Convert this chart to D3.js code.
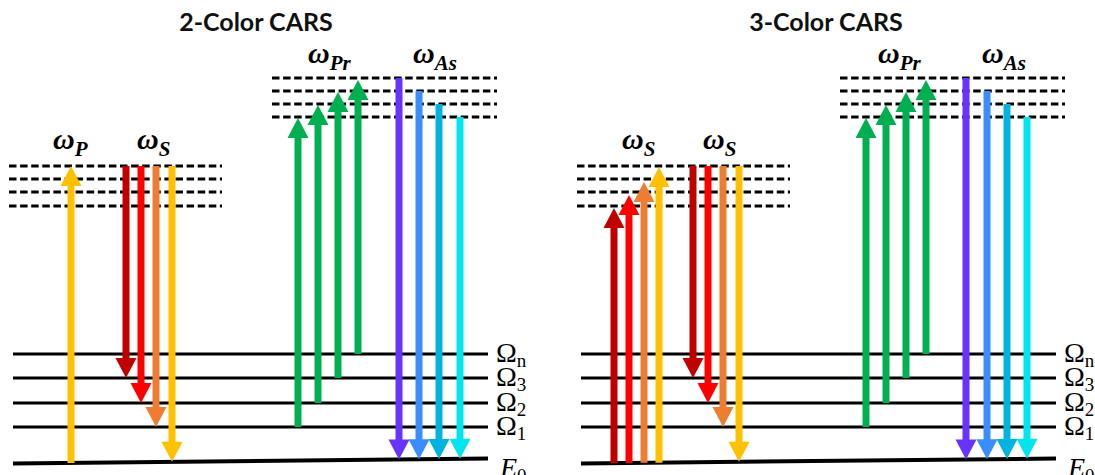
<!DOCTYPE html>
<html>
<head>
<meta charset="utf-8">
<script src="https://cdn.jsdelivr.net/npm/d3@7"></script>
<style>
  body { margin: 0; background: #fff; }
  svg { display: block; }
</style>
</head>
<body>
<svg id="chart" width="1095" height="475"></svg>
<script>
// ---- Energy levels (arbitrary energy units, ground state E0 = 0) ----
const vibLevelE   = [34, 58, 83, 107];
const vibLevelSub = ["1", "2", "3", "n"];
const lowerVirtualE = [255, 269, 282, 295];
const upperVirtualE = [344, 357, 370, 383];

const panelTitles = ["2-Color CARS", "3-Color CARS"];
const panelOffset = [0, 568];

// Beam colours
const cDarkRed = "#C00000", cRed = "#FF0000", cOrange = "#ED7D31", cYellow = "#FFC000";
const cGreen = "#00B050";
const cViolet = "#6633FF", cBlue = "#3A8DFF", cSky = "#00B4DF", cCyan = "#00E5EE";

// ---- 2-colour CARS transitions: position, start energy, end energy, colour ----
const twoPos   = [71, 126, 141, 156, 172, 298, 318, 338, 358, 399, 419, 439, 460];
const twoFrom  = [0, 295, 295, 295, 295, 34, 58, 83, 107, 383, 370, 357, 344];
const twoTo    = [295, 83, 58, 34, 0, 343, 356, 369, 381, 0, 0, 0, 0];
const twoColor = [cYellow, cDarkRed, cRed, cOrange, cYellow, cGreen, cGreen, cGreen, cGreen,
                  cViolet, cBlue, cSky, cCyan];

// ---- 3-colour CARS transitions ----
const threePos   = [46, 61, 76, 91, 125, 140, 155, 171, 298, 318, 338, 358, 398, 419, 439, 459];
const threeFrom  = [0, 0, 0, 0, 295, 295, 295, 295, 34, 58, 83, 107, 383, 370, 357, 344];
const threeTo    = [253, 266, 279, 294, 83, 58, 34, 0, 343, 356, 369, 381, 0, 0, 0, 0];
const threeColor = [cDarkRed, cRed, cOrange, cYellow, cDarkRed, cRed, cOrange, cYellow,
                    cGreen, cGreen, cGreen, cGreen, cViolet, cBlue, cSky, cCyan];

// ---- Beam labels: symbol subscript, position, energy row ----
const twoLabelSub   = ["P", "S", "Pr", "As"];
const twoLabelPos   = [53, 137, 308, 413];
const threeLabelSub = ["S", "S", "Pr", "As"];
const threeLabelPos = [54, 135, 310, 414];
const labelRow      = ["low", "low", "high", "high"];

// ---- Scales ----
const y = d3.scaleLinear().domain([0, 400]).range([461, 61]);
const x = d3.scaleLinear().domain([0, 500]).range([0, 500]);

// extents of the horizontal level lines (panel-local coordinates)
const levelX0 = 13, levelX1 = 488;
const lowDashX = [9, 222], highDashX = [272, 497];
const groundTilt = 5; // ground line drops slightly towards the left

function groundY(px) {
  const t = (px - x(levelX0)) / (x(levelX1) - x(levelX0));
  return y(0) + groundTilt / 2 - t * groundTilt;
}

const svg = d3.select("#chart");

const shaftW = 7, headW = 21, headL = 20;

function arrowPath(px, y0, y1) {
  const dir = y1 < y0 ? -1 : 1;         // -1 : pointing up
  const hb = y1 - dir * headL;           // base of the arrow head
  const p = d3.path();
  p.moveTo(px - shaftW / 2, y0);
  p.lineTo(px - shaftW / 2, hb);
  p.lineTo(px - headW / 2, hb);
  p.lineTo(px, y1);
  p.lineTo(px + headW / 2, hb);
  p.lineTo(px + shaftW / 2, hb);
  p.lineTo(px + shaftW / 2, y0);
  p.closePath();
  return p.toString();
}

function drawPanel(idx, pos, from, to, colors, labelSubs, labelPos) {
  const g = svg.append("g").attr("transform", `translate(${panelOffset[idx]},0)`);

  // title
  g.append("text")
    .attr("x", idx === 0 ? 256 : 258)
    .attr("y", 31)
    .attr("text-anchor", "middle")
    .attr("font-family", "Lato, 'Open Sans', sans-serif")
    .attr("font-weight", "bold")
    .attr("font-size", 25)
    .attr("fill", "#111")
    .text(panelTitles[idx]);

  // virtual states (dashed)
  const dash = (vals, ext) => g.selectAll(null).data(vals).enter().append("line")
    .attr("x1", x(ext[0])).attr("x2", x(ext[1]))
    .attr("y1", d => y(d)).attr("y2", d => y(d))
    .attr("stroke", "#000").attr("stroke-width", 2.8)
    .attr("stroke-dasharray", "7.5,3.6");
  dash(lowerVirtualE, lowDashX);
  dash(upperVirtualE, highDashX);

  // vibrational levels
  g.selectAll(null).data(vibLevelE).enter().append("line")
    .attr("x1", x(levelX0)).attr("x2", x(levelX1))
    .attr("y1", d => y(d)).attr("y2", d => y(d))
    .attr("stroke", "#000").attr("stroke-width", 2.8);

  // ground state (slightly tilted)
  g.append("line")
    .attr("x1", x(levelX0)).attr("x2", x(levelX1))
    .attr("y1", groundY(x(levelX0))).attr("y2", groundY(x(levelX1)))
    .attr("stroke", "#000").attr("stroke-width", 4);

  // level labels
  const lab = g.selectAll(null).data(vibLevelE).enter().append("text")
    .attr("x", x(496))
    .attr("y", d => y(d) + 8)
    .attr("font-family", "'Liberation Serif', serif")
    .attr("font-size", 28)
    .attr("fill", "#000");
  lab.append("tspan").text("Ω");
  lab.append("tspan").attr("font-size", 19).attr("dy", 5)
    .text((d, i) => vibLevelSub[i]);

  const e0 = g.append("text")
    .attr("x", x(500))
    .attr("y", groundY(x(levelX1)) + 18)
    .attr("font-family", "'Liberation Serif', serif")
    .attr("font-size", 28)
    .attr("fill", "#000");
  e0.append("tspan").attr("font-style", "italic").text("E");
  e0.append("tspan").attr("font-size", 19).attr("dy", 5).text("0");

  // beam labels
  const bl = g.selectAll(null).data(labelSubs).enter().append("text")
    .attr("x", (d, i) => x(labelPos[i]))
    .attr("y", (d, i) => labelRow[i] === "low" ? 149 : 63)
    .attr("font-family", "'Liberation Serif', serif")
    .attr("font-style", "italic")
    .attr("font-weight", "bold")
    .attr("font-size", 30)
    .attr("fill", "#000");
  bl.append("tspan").text("ω");
  bl.append("tspan").attr("font-size", 21).attr("dy", 7).text(d => d);

  // transitions
  g.selectAll(null).data(pos).enter().append("path")
    .attr("d", (d, i) => {
      const px = x(d);
      const y0 = from[i] === 0 ? groundY(px) : y(from[i]);
      const y1 = to[i] === 0 ? groundY(px) : y(to[i]);
      return arrowPath(px, y0, y1);
    })
    .attr("fill", (d, i) => colors[i]);
}

drawPanel(0, twoPos, twoFrom, twoTo, twoColor, twoLabelSub, twoLabelPos);
drawPanel(1, threePos, threeFrom, threeTo, threeColor, threeLabelSub, threeLabelPos);
</script>
</body>
</html>
